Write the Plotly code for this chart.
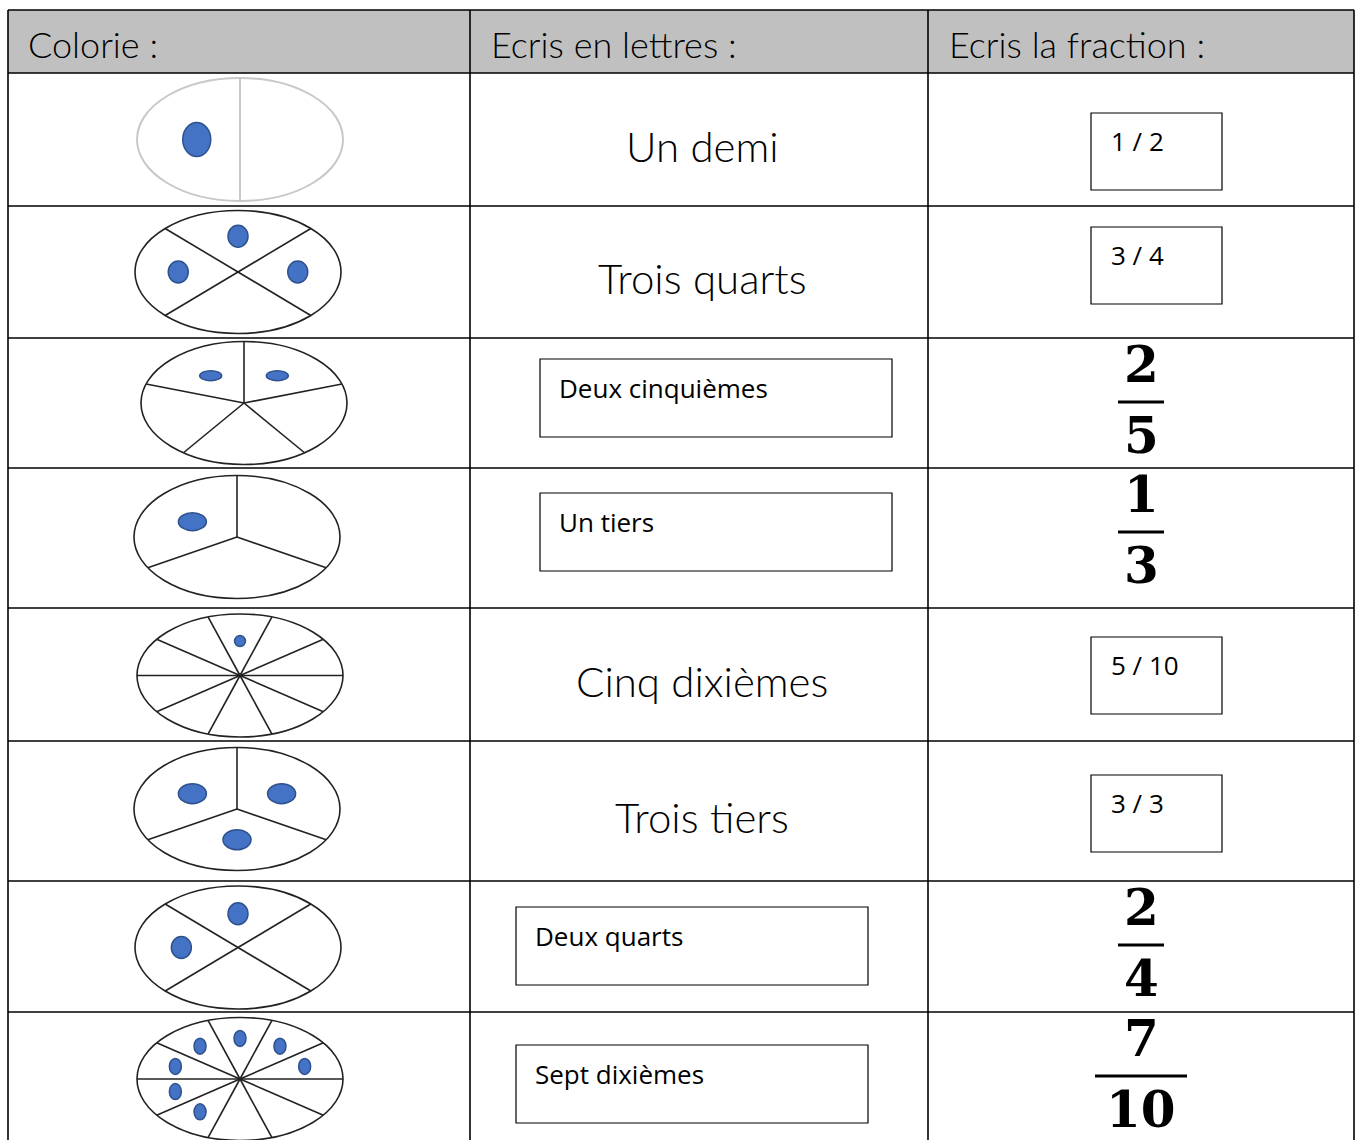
import math
import plotly.graph_objects as go

# ---------------- data ----------------
headers = ["Colorie :", "Ecris en lettres :", "Ecris la fraction :"]
denominators = [2, 4, 5, 3, 10, 3, 4, 10]
numerators = [1, 3, 2, 1, 5, 3, 2, 7]
words = ["Un demi", "Trois quarts", "Deux cinquièmes", "Un tiers",
         "Cinq dixièmes", "Trois tiers", "Deux quarts", "Sept dixièmes"]
word_is_answer = [False, False, True, True, False, False, True, True]
fraction_is_answer = [True, True, False, False, True, True, False, False]
colored_sectors = [[0], [0, 1, 3], [0, 4], [0], [2], [0, 2, 1], [0, 1],
                   [0, 1, 2, 3, 4, 5, 6]]

# ---------------- layout / style ----------------
W, H = 1356, 1140
X_LEFT, X_RIGHT = 8, 1354
COL_X = [470, 928]
Y_TOP, Y_HEAD = 10, 73
ROW_Y = [73, 206, 338, 468, 608, 741, 881, 1012, 1146]
ELL_CX = [240, 238, 244, 237, 240, 237, 238, 240]
ELL_CY_SHIFT = [0, 0, 0, -1, 1, -2, 1, 0]
ELL_RX, ELL_RY = 103, 61.5
SPOKE_OFFSET = {2: 90, 3: 90, 4: 45, 5: 90, 10: 0}
DOT_R = [(14, 17), (10, 11), (11, 5), (14, 9), (5.5, 5.5), (14, 10), (10, 11), (6, 8)]
DOT_FRAC = [0.42, 0.58, 0.55, 0.5, 0.56, 0.5, 0.55, 0.66]
WORD_BOX_X = [None, None, 540, 540, None, None, 516, 516]
WORD_BOX_DY = [None, None, 21, 25, None, None, 26, 33]
FRAC_BOX_DY = [40, 21, None, None, 29, 34, None, None]
CURSIVE = "Lato"
PRINT = "Open Sans"
MATH = "DejaVu Serif"
DOT_FILL, DOT_LINE = "#4472c4", "#2f528f"

shapes = []
annotations = []


def line(x0, y0, x1, y1, color="black", width=1.5):
    shapes.append(dict(type="line", x0=x0, y0=y0, x1=x1, y1=y1,
                       line=dict(color=color, width=width), layer="above"))


def text(x, y, s, size, family, xanchor="center", weight=None, color="black"):
    f = dict(size=size, family=family, color=color)
    if weight:
        f["weight"] = weight
    annotations.append(dict(x=x, y=y, text=s, showarrow=False, xanchor=xanchor,
                            yanchor="middle", font=f, xref="x", yref="y"))


# header
shapes.append(dict(type="rect", x0=X_LEFT, x1=X_RIGHT, y0=Y_TOP, y1=Y_HEAD,
                   fillcolor="#c0c0c0", line=dict(width=0), layer="below"))
for hx, htxt in zip([X_LEFT + 18, COL_X[0] + 19, COL_X[1] + 19], headers):
    text(hx, 44, htxt, 36, CURSIVE, xanchor="left", weight=300)

# grid
for y in [Y_TOP] + ROW_Y:
    line(X_LEFT, y, X_RIGHT, y, width=1.6)
for x in [X_LEFT] + COL_X + [X_RIGHT]:
    line(x, Y_TOP, x, ROW_Y[-1], width=1.6)

for i, n in enumerate(denominators):
    top, bot = ROW_Y[i], ROW_Y[i + 1]
    cy = (top + bot) / 2 + ELL_CY_SHIFT[i]
    if i == len(denominators) - 1:
        cy = top + 67
    cx = ELL_CX[i]
    col = "#c8c8c8" if i == 0 else "#222222"
    lw = 2 if i == 0 else 1.6
    shapes.append(dict(type="circle", x0=cx - ELL_RX, x1=cx + ELL_RX,
                       y0=cy - ELL_RY, y1=cy + ELL_RY,
                       line=dict(color=col, width=lw), layer="above"))
    off = SPOKE_OFFSET[n]
    for k in range(n):
        a = math.radians(off + k * 360 / n)
        line(cx, cy, cx + ELL_RX * math.cos(a), cy - ELL_RY * math.sin(a), color=col, width=lw)
    rx, ry = DOT_R[i]
    for k in colored_sectors[i]:
        a = math.radians(off + (k + 0.5) * 360 / n)
        dx = ELL_RX * DOT_FRAC[i] * math.cos(a)
        dy = -ELL_RY * DOT_FRAC[i] * math.sin(a)
        shapes.append(dict(type="circle", x0=cx + dx - rx, x1=cx + dx + rx,
                           y0=cy + dy - ry, y1=cy + dy + ry, fillcolor=DOT_FILL,
                           line=dict(color=DOT_LINE, width=1.5), layer="above"))

    # words column
    if word_is_answer[i]:
        bx, by = WORD_BOX_X[i], top + WORD_BOX_DY[i]
        shapes.append(dict(type="rect", x0=bx, x1=bx + 352, y0=by, y1=by + 78,
                           line=dict(color="black", width=1.2), layer="above"))
        text(bx + 17, by + 29, words[i], 26, PRINT, xanchor="left")
    else:
        text(702, (top + bot) / 2 + 6, words[i], 42, CURSIVE, weight=300)

    # fraction column
    if fraction_is_answer[i]:
        by = top + FRAC_BOX_DY[i]
        shapes.append(dict(type="rect", x0=1091, x1=1222, y0=by, y1=by + 77,
                           line=dict(color="black", width=1.2), layer="above"))
        text(1109, by + 28, f"{numerators[i]} / {n}", 26, PRINT, xanchor="left")
    else:
        half = 23 if n < 10 else 46
        line(1141 - half, top + 64, 1141 + half, top + 64, width=3)
        text(1141, top + 26, str(numerators[i]), 50, MATH, weight=700)
        text(1141, top + 97, str(n), 50, MATH, weight=700)

fig = go.Figure()
fig.add_trace(go.Scatter(x=[0, W], y=[0, H], mode="markers",
                         marker=dict(opacity=0), hoverinfo="skip", showlegend=False))
fig.update_layout(width=W, height=H, margin=dict(l=0, r=0, t=0, b=0),
                  paper_bgcolor="white", plot_bgcolor="white",
                  shapes=shapes, annotations=annotations, showlegend=False)
fig.update_xaxes(range=[0, W], visible=False, fixedrange=True)
fig.update_yaxes(range=[H, 0], visible=False, fixedrange=True)
fig.write_html(
    "out.html",
    config={"displayModeBar": False},
    post_script="document.body.style.margin='0';"
                "document.body.style.overflow='hidden';"
                "document.documentElement.style.overflow='hidden';",
)
